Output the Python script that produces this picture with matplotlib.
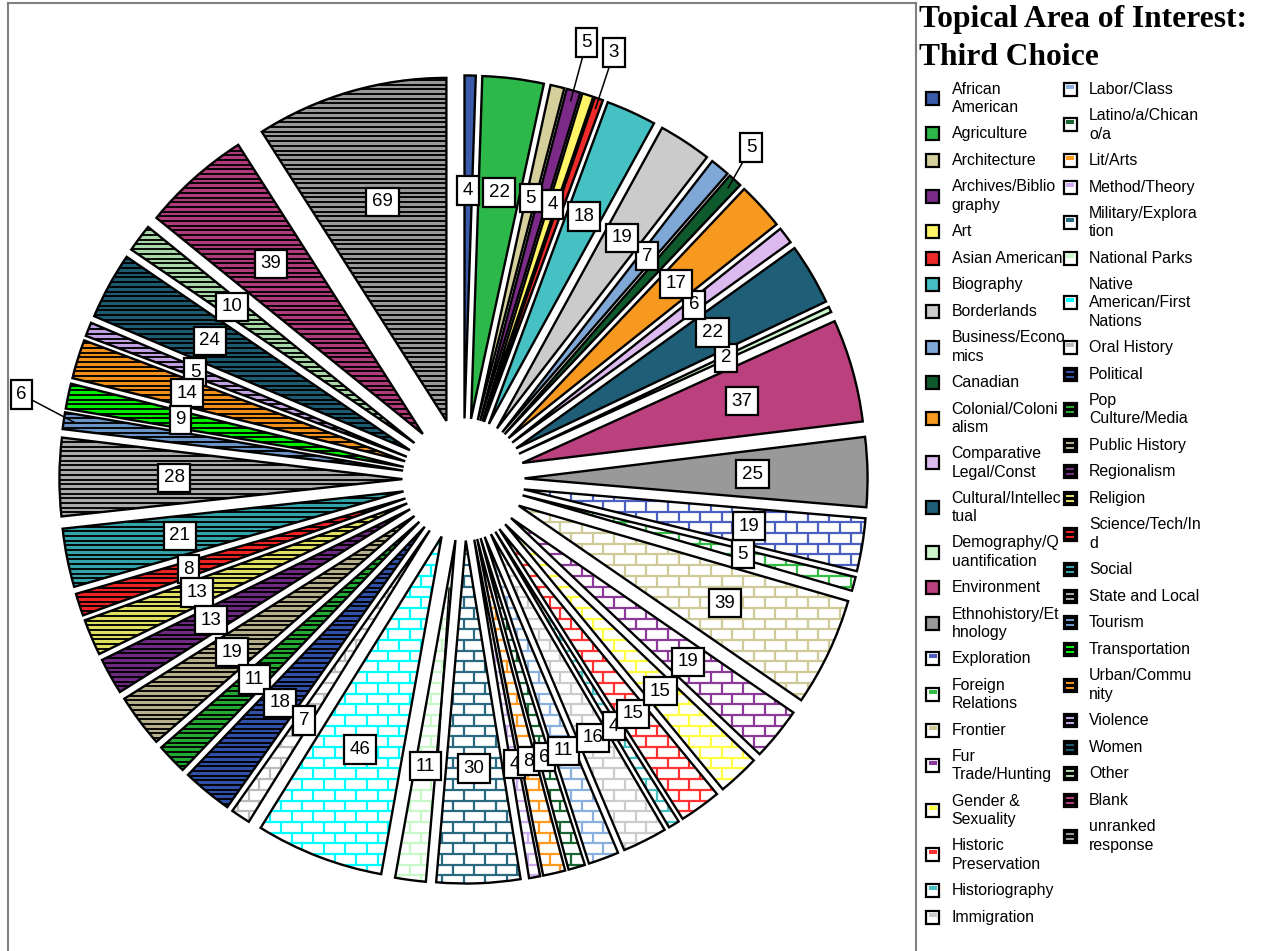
import numpy as np
import matplotlib
matplotlib.use("Agg")
import matplotlib.pyplot as plt
import matplotlib.patches as mpatches
from matplotlib.collections import LineCollection

# ---------------- data ----------------
title = "Topical Area of Interest:\nThird Choice"

categories = [
    "African American", "Agriculture", "Architecture", "Archives/Bibliography", "Art",
    "Asian American", "Biography", "Borderlands", "Business/Economics", "Canadian",
    "Colonial/Colonialism", "Comparative Legal/Const", "Cultural/Intellectual",
    "Demography/Quantification", "Environment", "Ethnohistory/Ethnology",
    "Exploration", "Foreign Relations", "Frontier", "Fur Trade/Hunting",
    "Gender & Sexuality", "Historic Preservation", "Historiography", "Immigration",
    "Labor/Class", "Latino/a/Chicano/a", "Lit/Arts", "Method/Theory",
    "Military/Exploration", "National Parks", "Native American/First Nations",
    "Oral History", "Political", "Pop Culture/Media", "Public History", "Regionalism",
    "Religion", "Science/Tech/Ind", "Social", "State and Local", "Tourism",
    "Transportation", "Urban/Community", "Violence", "Women", "Other", "Blank",
    "unranked response",
]

values = [4, 22, 5, 5, 4, 3, 18, 19, 7, 5, 17, 6, 22, 2, 37, 25,
          19, 5, 39, 19, 15, 15, 4, 16, 11, 6, 8, 4, 30, 11, 46, 7,
          18, 11, 19, 13, 13, 8, 21, 28, 6, 9, 14, 5, 24, 10, 39, 69]

legend_labels = [
    "African\nAmerican", "Agriculture", "Architecture", "Archives/Biblio\ngraphy", "Art",
    "Asian American", "Biography", "Borderlands", "Business/Econo\nmics", "Canadian",
    "Colonial/Coloni\nalism", "Comparative\nLegal/Const", "Cultural/Intellec\ntual",
    "Demography/Q\nuantification", "Environment", "Ethnohistory/Et\nhnology",
    "Exploration", "Foreign\nRelations", "Frontier", "Fur\nTrade/Hunting",
    "Gender &\nSexuality", "Historic\nPreservation", "Historiography", "Immigration",
    "Labor/Class", "Latino/a/Chican\no/a", "Lit/Arts", "Method/Theory",
    "Military/Explora\ntion", "National Parks", "Native\nAmerican/First\nNations",
    "Oral History", "Political", "Pop\nCulture/Media", "Public History", "Regionalism",
    "Religion", "Science/Tech/In\nd", "Social", "State and Local", "Tourism",
    "Transportation", "Urban/Commu\nnity", "Violence", "Women", "Other", "Blank",
    "unranked\nresponse",
]

# ---------------- style ----------------
colors = [
    "#3a5aaa", "#2db84a", "#d5cf9c", "#7b2a88", "#fff566", "#ee2a2a", "#46c1c3", "#cbcbcb",
    "#7fa8d6", "#0f5a2c", "#f7991f", "#dcb9ee", "#1e5f77", "#ccf5cb", "#bb407e", "#999999",
    "#4a5fc0", "#33bb44", "#d0ca98", "#8b3a9a", "#ffff44", "#ff3333", "#46c1c3", "#cccccc",
    "#8ab0dd", "#1a6633", "#ff9922", "#ccaaee", "#2a6a80", "#c8f8c8", "#00ffff", "#bbbbbb",
    "#3050a8", "#22aa33", "#b5b08a", "#6e2a80", "#e0e060", "#ee2222", "#33a3aa", "#aaaaaa",
    "#6a93c8", "#00ee00", "#f0901a", "#c0a0e0", "#1d5a70", "#a8d8a8", "#b03a7a", "#999999",
]
fills = ["solid"] * 16 + ["brick"] * 16 + ["stripe"] * 16

W, H, DPI = 1276, 951, 100
CX, CY, RPX = 463.5, 479.5, 343.0      # pie centre (px) and radius (px)
EXPLODE = 0.178
LABEL_D = 0.665
leader_boxes = {3: (586.5, 42.5), 5: (614.0, 52.5), 9: (751.0, 147.5), 40: (21.5, 394.5)}
inner_leader = {29: 0.32}

plt.rcParams["font.family"] = ["Liberation Sans", "DejaVu Sans"]

fig = plt.figure(figsize=(W / DPI, H / DPI), dpi=DPI)
ax = fig.add_axes([8 / W, 0, 908 / W, 948 / H])


def px2d(x, y):
    return ((x - CX) / RPX, (CY - y) / RPX)


face = ["white" if f == "brick" else c for f, c in zip(fills, colors)]
wedges, _ = ax.pie(values, colors=face, startangle=90, counterclock=False,
                   explode=[EXPLODE] * len(values), radius=1.0,
                   wedgeprops=dict(linewidth=0), frame=True)
ax.set_xlim((8 - CX) / RPX, (916 - CX) / RPX)
ax.set_ylim((CY - 951) / RPX, (CY - 3) / RPX)
ax.set_aspect("auto")
ax.set_xticks([])
ax.set_yticks([])
for s in ["left", "top", "right"]:
    ax.spines[s].set_color("#808080")
    ax.spines[s].set_linewidth(1.5)
ax.spines["bottom"].set_visible(False)


def hatch_segments(bb, kind):
    x0, y0, x1, y1 = bb.x0, bb.y0, bb.x1, bb.y1
    segs = []
    if kind == "stripe":
        step = 4.7 / RPX
        for y in np.arange(np.floor(y0 / step) * step, y1 + step, step):
            segs.append([(x0, y), (x1, y)])
    else:
        bh, bw = 10.7 / RPX, 21.5 / RPX
        for k in range(int(np.floor(y0 / bh)) - 1, int(np.ceil(y1 / bh)) + 1):
            y = k * bh
            segs.append([(x0, y), (x1, y)])
            off = (k % 2) * bw / 2
            for j in range(int(np.floor((x0 - off) / bw)) - 1, int(np.ceil((x1 - off) / bw)) + 1):
                x = j * bw + off
                segs.append([(x, y), (x, y + bh)])
    return segs


n = len(values)
for i, w in enumerate(wedges):
    path = w.get_path()
    kind = fills[i]
    if kind != "solid":
        bb = path.get_extents()
        if kind == "stripe":
            lc = LineCollection(hatch_segments(bb, kind), colors="black", linewidths=1.35, zorder=2)
        else:
            lc = LineCollection(hatch_segments(bb, kind), colors=colors[i], linewidths=1.6, zorder=2)
        ax.add_collection(lc)
        lc.set_clip_path(w)
    ax.add_patch(mpatches.PathPatch(path, fc="none", ec="black", lw=1.7, zorder=3))

    mid = np.deg2rad((w.theta1 + w.theta2) / 2)
    d = np.array([np.cos(mid), np.sin(mid)])
    c = np.array(w.center)
    if i in leader_boxes:
        lx, ly = px2d(*leader_boxes[i])
        end = c + 0.97 * w.r * d
        ax.plot([lx, end[0]], [ly, end[1]], color="black", lw=1.1, zorder=5)
    else:
        lx, ly = c + LABEL_D * w.r * d
    if i in inner_leader:
        end = inner_leader[i] * w.r * d + c - EXPLODE * w.r * d
        ax.plot([lx + 12 / RPX, end[0]], [ly, end[1]], color="black", lw=1.1, zorder=5)
    ax.text(lx, ly, str(values[i]), ha="center", va="center", fontsize=13.5,
            bbox=dict(boxstyle="square,pad=0.3", fc="white", ec="black", lw=1.6),
            zorder=10 + (n - i) * 0.01)

# ---------------- legend ----------------
def fxy(x, y):
    return (x / W, 1 - y / H)


fig.text(*fxy(919, 5), title, ha="left", va="top", fontsize=22.7, fontweight="bold",
         family="Liberation Serif", linespacing=1.4)

LINE_H, GAP, TOP = 18.0, 8.6, 76.0
cols = [(926.0, 951.7), (1063.5, 1089.0)]
SW = 13.0
y = TOP
for i, lab in enumerate(legend_labels):
    col = 0 if i < 24 else 1
    if i == 24:
        y = TOP
    nl = lab.count("\n") + 1
    hgt = nl * LINE_H + GAP
    yc = y + hgt / 2
    y += hgt
    sx, tx = cols[col]
    kind = fills[i]
    fc = {"solid": colors[i], "brick": "white", "stripe": "black"}[kind]
    fig.add_artist(mpatches.Rectangle(fxy(sx, yc + SW / 2), SW / W, SW / H, transform=fig.transFigure,
                                      fc=fc, ec="black", lw=1.6))
    if kind == "brick":
        fig.add_artist(mpatches.Rectangle(fxy(sx + 2.5, yc - 0.5), 8 / W, 4 / H,
                                          transform=fig.transFigure, fc=colors[i], ec="none"))
    elif kind == "stripe":
        for yy in (yc - 2.5, yc + 2.5):
            fig.add_artist(mpatches.Rectangle(fxy(sx + 2.5, yy + 1), 8 / W, 2 / H,
                                              transform=fig.transFigure, fc=colors[i], ec="none"))
    fig.text(*fxy(tx, yc), lab, ha="left", va="center", fontsize=11.4, linespacing=1.27)

fig.savefig("out.png", dpi=DPI)
